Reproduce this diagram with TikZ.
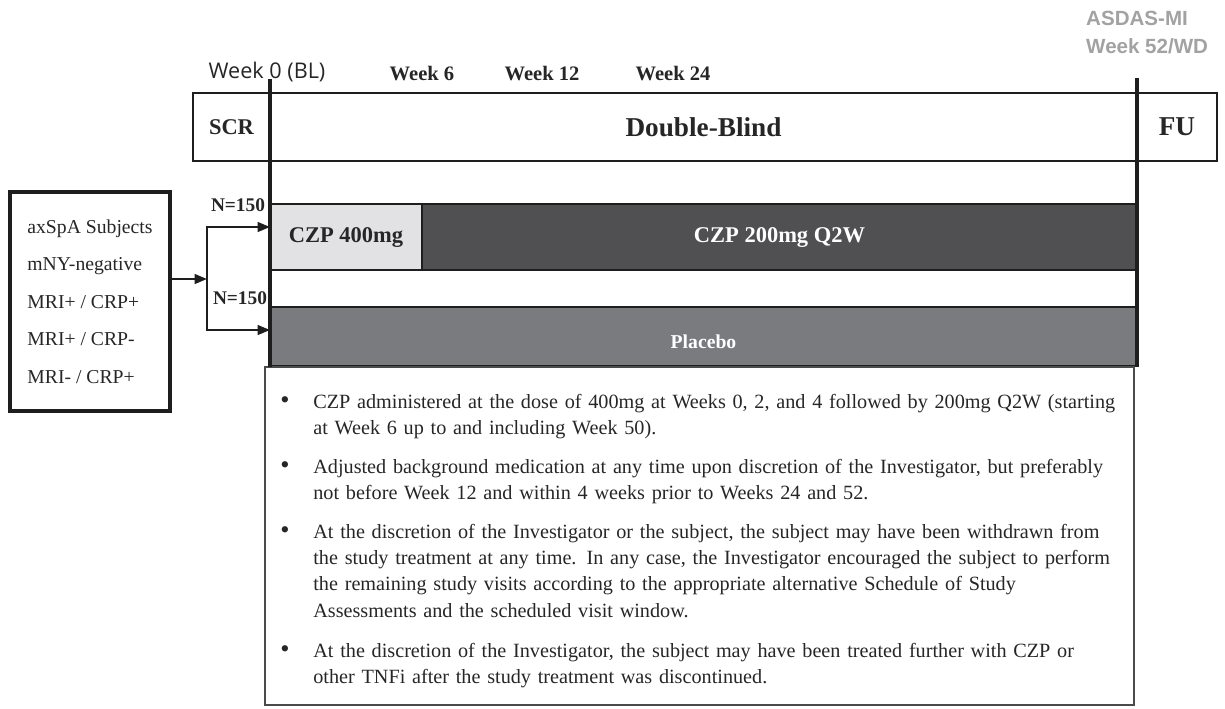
\documentclass[tikz,border=0pt]{standalone}
\usepackage{fontspec}
\setmainfont{Liberation Serif}
\newfontfamily\opensans{Open Sans}
\newfontfamily\arialsans{Liberation Sans}
\usetikzlibrary{positioning, arrows.meta, calc}
\definecolor{dbink}{HTML}{262626}
\definecolor{dbline}{HTML}{1E1E1E}
\definecolor{dbload}{HTML}{E2E2E4}
\definecolor{dbmaint}{HTML}{505053}
\definecolor{dbplac}{HTML}{7A7B7F}
\definecolor{dbgray}{HTML}{A2A2A4}

\begin{document}
\begin{tikzpicture}[x=0.02cm, y=-0.02cm, text=dbink,
    phase/.style={draw=dbline, line width=1.6pt, minimum height=1.36cm, inner sep=0pt,
      font=\bfseries\fontsize{12.8}{15}\selectfont},
    bar/.style={draw=dbline, line width=1.5pt, inner sep=0pt,
      font=\bfseries\fontsize{12.8}{15}\selectfont},
    wk/.style={anchor=base, font=\bfseries\fontsize{11.7}{14}\selectfont},
    nlbl/.style={font=\bfseries\fontsize{11}{13}\selectfont},
    tl/.style={dbline, line width=1.9pt},
    arr/.style={dbline, line width=1.2pt, -{Triangle[length=7pt, width=5.5pt]}},
    note/.style={anchor=base west, inner sep=0pt, text width=16.4cm, align=left,
      font=\fontsize{11.5}{15}\selectfont}]
    \useasboundingbox (0,0) rectangle (1225,708);
    % header row
    \node[phase, minimum width=1.54cm] (scr) at (231.5,127) {SCR};
    \node[phase, minimum width=17.34cm, font=\bfseries\fontsize{15.5}{18}\selectfont]
      (dblind) at (703.5,127) {Double-Blind};
    \node[phase, minimum width=1.6cm, font=\bfseries\fontsize{15.5}{18}\selectfont]
      (fu) at (1177,127) {FU};
    % treatment arms
    \node[bar, fill=dbload, minimum width=3.04cm, minimum height=1.32cm]
      (load) at (346,237) {CZP 400mg};
    \node[bar, fill=dbmaint, text=white, minimum width=14.3cm, minimum height=1.32cm]
      (maint) at (779.5,237) {CZP 200mg Q2W};
    \node[bar, fill=dbplac, text=white, minimum width=17.34cm, minimum height=1.18cm,
      text height=13.5pt, text depth=0pt,
      font=\bfseries\fontsize{11.2}{13}\selectfont] (pbo) at (703.5,336.5) {Placebo};
    \node[draw=dbline!80, line width=1.1pt, minimum width=17.38cm, minimum height=6.76cm,
      inner sep=0pt] (notes) at (699.5,536) {};
    % time points
    \node[anchor=base, font=\opensans\fontsize{12.3}{14}\selectfont] (w0) at (267,78) {Week 0 (BL)};
    \node[wk] (w6) at (422,80) {Week 6};
    \node[wk] (w12) at (542,80) {Week 12};
    \node[wk] (w24) at (673,80) {Week 24};
    \node[anchor=base west, text=dbgray, font=\arialsans\bfseries\fontsize{11.7}{14}\selectfont]
      (asdas) at (1080,25) {ASDAS-MI};
    \node[anchor=base west, text=dbgray, font=\arialsans\bfseries\fontsize{11.7}{14}\selectfont]
      (w52) at (1080,53) {Week 52/WD};
    \coordinate (w0top) at (270,79);
    \coordinate (w0bot) at (270,367);
    \coordinate (w52top) at (1137,78);
    \coordinate (w52bot) at (1137,367);
    \draw[tl] (w0top) -- (w0bot);
    \draw[tl] (w52top) -- (w52bot);
    % subjects and randomisation
    \node[draw=dbline, line width=2.2pt, minimum width=3.2cm, minimum height=4.38cm,
      align=left, font=\fontsize{11.2}{21.4}\selectfont] (subj) at (90,301.5)
      {axSpA Subjects\\ mNY-negative\\ MRI+ / CRP+\\ MRI+ / CRP-\\ MRI- / CRP+};
    \node[nlbl] (nA) at (238,205) {N=150};
    \node[nlbl] (nB) at (240,298) {N=150};
    \coordinate (split) at (207,279);
    \coordinate (inA) at (270,227);
    \coordinate (inB) at (270,330);
    \draw[arr] (subj.east |- split) -- (split);
    \draw[arr] (split) |- (inA);
    \draw[arr] (split) |- (inB);
    % notes
    \foreach \y/\n in {408/1, 473/2, 538/3, 657/4}
      \node[anchor=base, font=\fontsize{15}{15}\selectfont] (bul\n) at (285,\y) {\textbullet};
    \node[note] (t1) at (313,408)
      {CZP administered at the dose of 400mg at Weeks 0, 2, and 4 followed by 200mg Q2W (starting\\
       at Week 6 up to and including Week 50).};
    \node[note] (t2) at (313,473)
      {Adjusted background medication at any time upon discretion of the Investigator, but preferably\\
       not before Week 12 and within 4 weeks prior to Weeks 24 and 52.};
    \node[note] (t3) at (313,538)
      {At the discretion of the Investigator or the subject, the subject may have been withdrawn from\\
       the study treatment at any time. In any case, the Investigator encouraged the subject to perform\\
       the remaining study visits according to the appropriate alternative Schedule of Study\\
       Assessments and the scheduled visit window.};
    \node[note] (t4) at (313,657)
      {At the discretion of the Investigator, the subject may have been treated further with CZP or\\
       other TNFi after the study treatment was discontinued.};
\end{tikzpicture}
\end{document}
